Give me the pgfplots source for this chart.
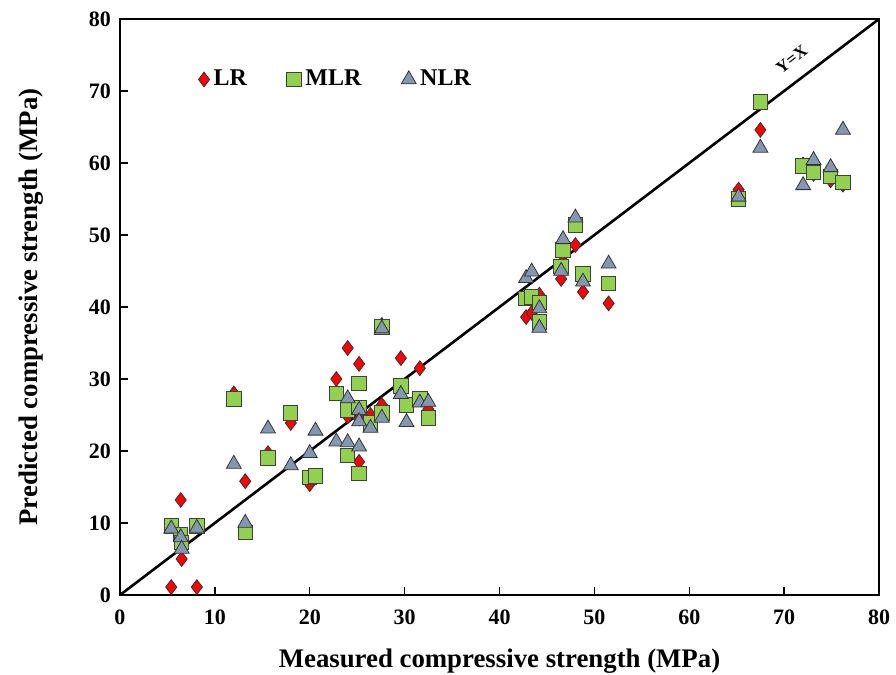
\documentclass[border=0pt]{standalone}
\usepackage{pgfplots}
\pgfplotsset{compat=1.18}
\usepackage{pgfplotstable}
\usepackage{fontspec}
\setmainfont{Liberation Serif}
\usetikzlibrary{calc}

\definecolor{lrred}{HTML}{FF0000}
\definecolor{mlrgreen}{HTML}{92D050}
\definecolor{nlrblue}{HTML}{8497B0}

% measured vs predicted compressive strength (MPa)
\pgfplotstableread{
x y
5.4 1.1
6.4 13.2
6.5 5.0
8.1 1.1
12.0 28.0
13.2 15.8
15.6 19.7
18.0 23.9
20.0 15.4
20.6 16.4
22.8 30.0
24.0 34.3
24.0 24.8
25.2 32.1
25.2 18.5
25.2 24.5
26.4 25.0
27.6 37.5
27.6 26.4
29.6 32.9
30.2 26.5
31.6 31.5
32.5 25.8
42.8 38.6
43.4 39.2
44.2 41.7
44.2 40.5
46.5 43.9
46.7 46.3
48.0 48.6
48.8 42.1
51.5 40.5
65.2 56.3
67.5 64.6
72.0 59.8
73.1 58.5
74.9 57.6
76.2 57.0
}\lrdata

\pgfplotstableread{
x y
5.4 9.6
6.4 8.4
6.5 7.3
8.1 9.6
12.0 27.2
13.2 8.7
15.6 19.0
18.0 25.3
20.0 16.3
20.6 16.5
22.8 28.0
24.0 25.7
24.0 19.4
25.2 29.4
25.2 16.9
25.2 26.0
26.4 23.9
27.6 37.2
27.6 25.3
29.6 29.0
30.2 26.4
31.6 27.3
32.5 24.6
42.8 41.2
43.4 41.4
44.2 40.6
44.2 37.9
46.5 45.6
46.7 47.9
48.0 51.4
48.8 44.6
51.5 43.3
65.2 55.0
67.5 68.5
72.0 59.6
73.1 58.7
74.9 58.1
76.2 57.3
}\mlrdata

\pgfplotstableread{
x y
5.4 9.2
6.4 8.0
6.5 6.4
8.1 9.3
12.0 18.2
13.2 10.0
15.6 23.1
18.0 18.0
20.0 19.7
20.6 22.8
22.8 21.3
24.0 27.3
24.0 21.2
25.2 25.7
25.2 20.6
25.2 24.1
26.4 23.2
27.6 37.0
27.6 24.6
29.6 27.9
30.2 24.0
31.6 26.7
32.5 26.8
42.8 44.0
43.4 44.9
44.2 39.8
44.2 37.1
46.5 45.0
46.7 49.4
48.0 52.4
48.8 43.5
51.5 46.0
65.2 55.3
67.5 62.1
72.0 56.9
73.1 60.4
74.9 59.4
76.2 64.6
}\nlrdata

\begin{document}
\begin{tikzpicture}
\begin{axis}[
  scale only axis,
  width=379.5pt, height=288pt,
  xmin=0, xmax=80, ymin=0, ymax=80,
  xtick={0,10,...,80}, ytick={0,10,...,80},
  tick align=inside,
  xtick pos=bottom, ytick pos=left,
  major tick length=4pt,
  axis line style={line width=0.8pt},
  tick style={line width=0.7pt, black},
  /pgf/number format/assume math mode=true,
  ticklabel style={font=\fontsize{11}{13}\selectfont\bfseries},
  xticklabel style={yshift=-4pt},
  yticklabel style={xshift=-1pt},
  xlabel={Measured compressive strength (MPa)},
  ylabel={Predicted compressive strength (MPa)},
  label style={font=\fontsize{13.4}{16}\selectfont\bfseries},
  xlabel style={yshift=-5pt},
  ylabel style={yshift=16pt},
  legend columns=3,
  legend style={draw=none, fill=none, at={(0.095,0.895)}, anchor=west,
    font=\fontsize{12}{14}\selectfont\bfseries,
    /tikz/every even column/.append style={column sep=18pt}},
  legend image code/.code={\draw[#1] plot coordinates {(0.2cm,0cm)};},
  clip=false,
]
\addplot[line width=1.3pt, black, forget plot] coordinates {(0,0) (80,80)};
\addplot[only marks, mark=diamond*, mark size=3.7pt,
  mark options={fill=lrred, draw=black!80, line width=0.4pt}] table {\lrdata};
\addlegendentry{LR}
\addplot[only marks, mark=square*, mark size=3.6pt,
  mark options={fill=mlrgreen, draw=black!75, line width=0.5pt}] table {\mlrdata};
\addlegendentry{MLR}
\addplot[only marks, mark=triangle*, mark size=4.3pt,
  mark options={fill=nlrblue, draw=black!80, line width=0.4pt}] table {\nlrdata};
\addlegendentry{NLR}
\node[rotate=37.2, font=\fontsize{8.5}{10}\selectfont\bfseries] at (axis cs:70.8,74.4) {Y=X};
\coordinate (sw) at (rel axis cs:0,0);
\coordinate (ne) at (rel axis cs:1,1);
\end{axis}
\pgfresetboundingbox
\path[use as bounding box] ($(sw)+(-60pt,-40pt)$) rectangle ($(ne)+(8.5pt,9.5pt)$);
\end{tikzpicture}
\end{document}
